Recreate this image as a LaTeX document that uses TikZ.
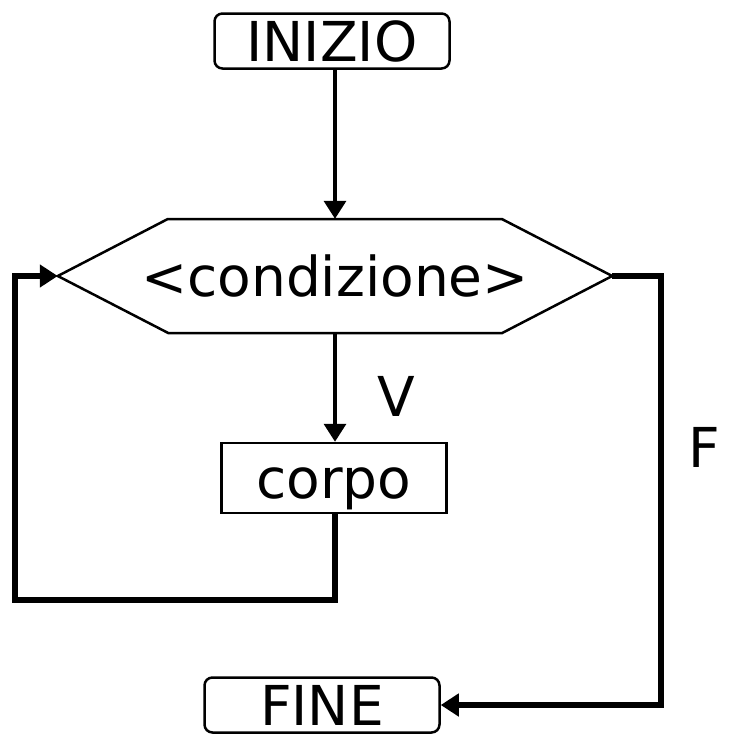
\documentclass[tikz,border=0pt]{standalone}
\usepackage{fontspec}
\setmainfont{DejaVu Sans}
\usetikzlibrary{arrows.meta}

\begin{document}
\begin{tikzpicture}[x=1pt, y=-1pt,
  lbl/.style={font=\fontsize{55}{62}\selectfont, inner sep=0pt,
              text height=40pt, text depth=0pt},
  term/.style={lbl, draw, line width=2.5pt, rounded corners=8pt,
               minimum width=235, minimum height=55},
  blk/.style={lbl, draw, line width=2.5pt, minimum width=225, minimum height=70},
  thinflow/.style={line width=3.5pt, -{Triangle[length=18pt, width=22pt]}},
  flow/.style={line width=5.5pt, -{Triangle[length=18pt, width=22pt]}}]
\useasboundingbox (0,0) rectangle (731,739);
\node[term] (inizio) at (332,41) {INIZIO};
\node[lbl, minimum width=554, minimum height=114] (cond) at (335,276) {<condizione>};
\draw[line width=2.5pt] (cond.west) -- ++(110,-57) -- ++(334,0) -- (cond.east)
  -- ++(-110,57) -- ++(-334,0) -- cycle;
\node[blk] (corpo) at (334,478) {corpo};
\node[term] (fine) at (322,705) {FINE};
\node[lbl] (vero) at (396,396) {V};
\node[lbl] (falso) at (704,447) {F};
\coordinate (loopc) at (15,600);
\coordinate (fx) at (661,0);
\draw[thinflow] (inizio.south -| cond.north) -- (cond.north);
\draw[thinflow] (cond.south) -- (cond.south |- corpo.north);
\draw[flow] (corpo.south -| cond.south) |- (loopc) |- (cond.west);
\draw[flow] (cond.east) -| (cond.east -| fx) |- (fine.east);
\end{tikzpicture}
\end{document}
